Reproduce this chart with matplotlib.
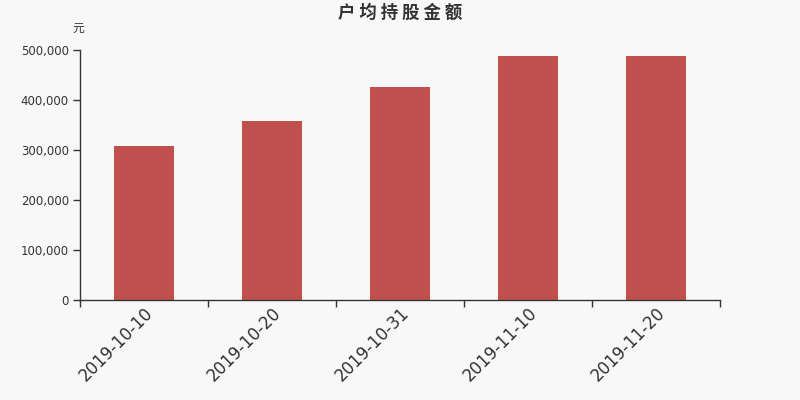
import matplotlib
matplotlib.use("Agg")
import matplotlib.pyplot as plt
import numpy as np

plt.rcParams['font.family'] = ['DejaVu Sans', 'Noto Sans CJK SC']

categories = ["2019-10-10", "2019-10-20", "2019-10-31", "2019-11-10", "2019-11-20"]
values = [308000, 357500, 425500, 488000, 488000]
yticks = [0, 100000, 200000, 300000, 400000, 500000]
ytick_labels = ["0", "100,000", "200,000", "300,000", "400,000", "500,000"]

bg = "#f8f8f8"
fig = plt.figure(figsize=(8, 4), dpi=100, facecolor=bg)
ax = fig.add_axes([0.1, 0.25, 0.8, 0.625], facecolor=bg)

x = np.arange(len(categories))
ax.bar(x, values, width=0.47, color="#c0504e", zorder=2)
ax.set_xlim(-0.5, len(categories) - 0.5)
ax.set_ylim(0, 500000)

ax.set_yticks(yticks)
ax.set_yticklabels(ytick_labels, fontsize=8.5, color="#333333")
ax.set_xticks(x)
ax.set_xticklabels(categories, rotation=45, ha="right", va="top",
                   rotation_mode="anchor", fontsize=12, color="#333333")
ax.tick_params(axis="x", length=0, pad=3)
ax.set_xticks(np.arange(len(categories) + 1) - 0.5, minor=True)
ax.tick_params(axis="x", which="minor", length=5, color="#333333", width=1)
ax.tick_params(axis="y", length=5, color="#333333", width=1, pad=3)

for s in ["top", "right"]:
    ax.spines[s].set_visible(False)
for s in ["left", "bottom"]:
    ax.spines[s].set_color("#333333")
    ax.spines[s].set_linewidth(1)

fig.text(0.5, 0.967, "户 均 持 股 金 额", ha="center", va="center",
         fontsize=12.5, fontweight="bold", color="#333333",
         family=['Noto Sans CJK SC', 'DejaVu Sans'])
fig.text(0.098, 0.93, "元", ha="center", va="center", fontsize=8.5, color="#333333",
         family=['Noto Sans CJK SC', 'DejaVu Sans'])

fig.savefig("out.png", dpi=100, facecolor=bg)
